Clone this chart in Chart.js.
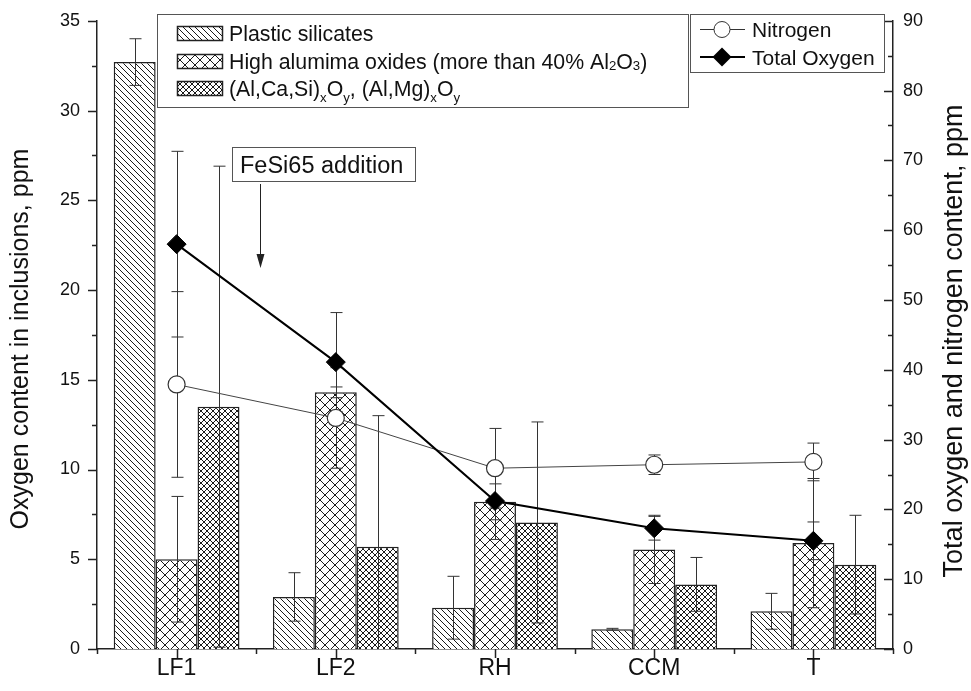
<!DOCTYPE html>
<html>
<head>
<meta charset="utf-8">
<script src="https://cdn.jsdelivr.net/npm/chart.js@4.4.1/dist/chart.umd.min.js"></script>
<style>
  html, body { margin: 0; padding: 0; background: #fff; }
  canvas { display: block; }
</style>
</head>
<body>
<canvas id="inclusionsChart" width="971" height="691"></canvas>
<script>
// categories (treatment stages)
const stages = ['LF1', 'LF2', 'RH', 'CCM', 'T'];

// oxygen content in inclusions, ppm (left axis) and their errors
const plasticSilicates    = [32.7, 2.9, 2.3, 1.1, 2.1];
const plasticSilicatesErr = [1.3, 1.35, 1.75, 0.05, 1.0];
const highAlumina         = [5.0, 14.3, 8.2, 5.55, 5.9];
const highAluminaErr      = [3.5, 0.3, 1.0, 1.9, 3.6];
const alCaSiOxides        = [13.5, 5.7, 7.05, 3.6, 4.7];
const alCaSiOxidesErr     = [13.4, 7.3, 5.6, 1.5, 2.75];

// total oxygen and nitrogen, ppm (right axis)
const nitrogen       = [37.9, 33.1, 25.9, 26.4, 26.8];
const nitrogenErr    = [13.3, 7.2, 5.7, 1.4, 2.7];
const totalOxygen    = [58.0, 41.1, 21.2, 17.3, 15.5];
const totalOxygenErr = [13.3, 7.1, 5.5, 1.7, 2.7];

// axis tick values
const leftTicks = { min: 0, max: 35, major: 5, minor: 2.5 };
const rightTicks = { min: 0, max: 90, major: 10, minor: 5 };

const FONT = '"Liberation Sans", Arial, sans-serif';
const INK = '#222';

const canvas = document.getElementById('inclusionsChart');
const ctx = canvas.getContext('2d');

// hatch patterns
function hatch(size, dirs) {
    const c = document.createElement('canvas');
    c.width = size; c.height = size;
    const g = c.getContext('2d');
    g.fillStyle = '#fff';
    g.fillRect(0, 0, size, size);
    g.strokeStyle = '#1a1a1a';
    g.lineWidth = 1;
    g.beginPath();
    if (dirs.includes('\\')) {
        g.moveTo(-1, -1); g.lineTo(size + 1, size + 1);
        g.moveTo(-size - 1, -1); g.lineTo(1, size + 1);
        g.moveTo(size - 1, -1); g.lineTo(2 * size + 1, size + 1);
    }
    if (dirs.includes('/')) {
        g.moveTo(-1, size + 1); g.lineTo(size + 1, -1);
        g.moveTo(-size - 1, size + 1); g.lineTo(1, -1);
        g.moveTo(size - 1, size + 1); g.lineTo(2 * size + 1, -1);
    }
    g.stroke();
    return ctx.createPattern(c, 'repeat');
}
const plasticFill = hatch(6, '\\');
const aluminaFill = hatch(10, '\\/');
const alCaSiFill = hatch(6, '\\/');

// error bars: bars after their dataset, lines before any line is drawn
let lineErrorsDone = false;
function drawErrors(chart, index) {
    const ds = chart.data.datasets[index];
    if (!ds.errors) return;
    const meta = chart.getDatasetMeta(index);
    const scale = chart.scales[meta.yAxisID];
    const c = chart.ctx;
    c.save();
    c.strokeStyle = '#333';
    c.lineWidth = 1;
    meta.data.forEach((el, i) => {
        const v = ds.data[i], e = ds.errors[i];
        const x = Math.round(el.x) + 0.5;
        const top = scale.getPixelForValue(v + e);
        const lowVal = v - e;
        const bot = scale.getPixelForValue(Math.max(0, lowVal));
        c.beginPath();
        c.moveTo(x, top); c.lineTo(x, bot);
        c.moveTo(x - 6, top); c.lineTo(x + 6, top);
        if (lowVal > 0) { c.moveTo(x - 6, bot); c.lineTo(x + 6, bot); }
        c.stroke();
    });
    c.restore();
}
const errorBarPlugin = {
    id: 'errorBars',
    beforeDraw() { lineErrorsDone = false; },
    beforeDatasetDraw(chart, args) {
        const ds = chart.data.datasets[args.index];
        if (ds.type === 'line' && !lineErrorsDone) {
            chart.data.datasets.forEach((d, i) => { if (d.type === 'line') drawErrors(chart, i); });
            lineErrorsDone = true;
        }
    },
    afterDatasetDraw(chart, args) {
        const ds = chart.data.datasets[args.index];
        if (ds.type !== 'line') drawErrors(chart, args.index);
    }
};

// axis tick marks: left outward, right inward, x outward with minor marks between stages
const tickMarksPlugin = {
    id: 'tickMarks',
    afterDraw(chart) {
        const c = chart.ctx;
        const { x, y, y1 } = chart.scales;
        c.save();
        c.strokeStyle = INK;
        c.lineWidth = 1.5;
        c.beginPath();
        for (let v = leftTicks.min; v <= leftTicks.max + 1e-9; v += leftTicks.minor) {
            const p = Math.round(y.getPixelForValue(v)) + 0.5;
            const len = (v % leftTicks.major === 0) ? 9 : 5;
            c.moveTo(y.right, p); c.lineTo(y.right - len, p);
        }
        for (let v = rightTicks.min; v <= rightTicks.max + 1e-9; v += rightTicks.minor) {
            const p = Math.round(y1.getPixelForValue(v)) + 0.5;
            const len = (v % rightTicks.major === 0) ? 9 : 5;
            c.moveTo(y1.left, p); c.lineTo(y1.left - len, p);
        }
        const step = (x.right - x.left) / stages.length;
        stages.forEach((s, i) => {
            const p = Math.round(x.getPixelForValue(i)) + 0.5;
            c.moveTo(p, x.top); c.lineTo(p, x.top + 9);
        });
        for (let i = 0; i <= stages.length; i++) {
            const p = Math.round(x.left + i * step) + 0.5;
            c.moveTo(p, x.top); c.lineTo(p, x.top + 5);
        }
        c.stroke();
        c.restore();
    }
};

function drawRich(c, x, y, parts, size) {
    parts.forEach(p => {
        const s = p.sub ? size * 0.62 : size;
        c.font = s + 'px ' + FONT;
        const dy = p.sub === 'low' ? size * 0.3 : (p.sub ? size * 0.05 : 0);
        c.fillText(p.t, x, y + dy);
        x += c.measureText(p.t).width;
    });
}

// legends, axis titles and the FeSi65 annotation
const decorPlugin = {
    id: 'decor',
    afterDraw(chart) {
        const c = chart.ctx;
        c.save();
        c.fillStyle = '#111';
        c.strokeStyle = '#555';
        c.lineWidth = 1;
        c.textBaseline = 'alphabetic';
        c.textAlign = 'left';

        // bar legend
        c.fillStyle = '#fff';
        c.fillRect(157, 14, 531, 94);
        c.strokeRect(157.5, 14.5, 531, 93);
        const barRows = [
            { fill: plasticFill, y: 33, parts: [{ t: 'Plastic silicates' }] },
            { fill: aluminaFill, y: 61, parts: [{ t: 'High alumima oxides (more than 40% Al' }, { t: '2', sub: true }, { t: 'O' }, { t: '3', sub: true }, { t: ')' }] },
            { fill: alCaSiFill, y: 88, parts: [{ t: '(Al,Ca,Si)' }, { t: 'x', sub: 'low' }, { t: 'O' }, { t: 'y', sub: 'low' }, { t: ', (Al,Mg)' }, { t: 'x', sub: 'low' }, { t: 'O' }, { t: 'y', sub: 'low' }] }
        ];
        barRows.forEach(r => {
            c.fillStyle = r.fill;
            c.fillRect(177, r.y - 7, 46, 15);
            c.strokeStyle = INK;
            c.lineWidth = 1.5;
            c.strokeRect(177.5, r.y - 6.5, 45, 14);
            c.fillStyle = '#111';
            drawRich(c, 229, r.y + 7.5, r.parts, 21.3);
        });

        // line legend
        c.fillStyle = '#fff';
        c.fillRect(690, 14, 194, 58);
        c.strokeStyle = '#555';
        c.lineWidth = 1;
        c.strokeRect(690.5, 14.5, 194, 58);
        c.strokeStyle = '#333';
        c.beginPath(); c.moveTo(700, 29.5); c.lineTo(745, 29.5); c.stroke();
        c.fillStyle = '#fff';
        c.beginPath(); c.arc(722, 29.5, 8, 0, Math.PI * 2); c.fill(); c.stroke();
        c.strokeStyle = '#000';
        c.lineWidth = 2;
        c.beginPath(); c.moveTo(700, 57); c.lineTo(745, 57); c.stroke();
        c.fillStyle = '#000';
        c.beginPath(); c.moveTo(722, 47.5); c.lineTo(731.5, 57); c.lineTo(722, 66.5); c.lineTo(712.5, 57); c.closePath(); c.fill();
        c.fillStyle = '#111';
        c.font = '21px ' + FONT;
        c.fillText('Nitrogen', 752, 37);
        c.fillText('Total Oxygen', 752, 64.5);

        // annotation
        c.fillStyle = '#fff';
        c.fillRect(232, 147, 183, 34);
        c.strokeStyle = '#555';
        c.lineWidth = 1;
        c.strokeRect(232.5, 147.5, 183, 34);
        c.fillStyle = '#111';
        c.font = '23.5px ' + FONT;
        c.fillText('FeSi65 addition', 240, 172.5);
        c.strokeStyle = INK;
        c.beginPath(); c.moveTo(260.5, 184); c.lineTo(260.5, 258); c.stroke();
        c.beginPath(); c.moveTo(256.5, 254); c.lineTo(264.5, 254); c.lineTo(260.5, 268); c.closePath(); c.fillStyle = INK; c.fill();

        // axis titles
        c.fillStyle = '#111';
        c.font = '25px ' + FONT;
        c.textAlign = 'center';
        c.textBaseline = 'middle';
        c.translate(21, 339);
        c.rotate(-Math.PI / 2);
        c.fillText('Oxygen content in inclusions, ppm', 0, 0);
        c.setTransform(1, 0, 0, 1, 0, 0);
        c.font = '27px ' + FONT;
        c.translate(955, 341);
        c.rotate(-Math.PI / 2);
        c.fillText('Total oxygen and nitrogen content, ppm', 0, 0);
        c.restore();
    }
};

const tickFont = { family: FONT, size: 18 };

new Chart(ctx, {
    type: 'bar',
    data: {
        labels: stages,
        datasets: [
            {
                type: 'line',
                label: 'Total Oxygen',
                data: totalOxygen,
                errors: totalOxygenErr,
                yAxisID: 'y1',
                order: 0,
                borderColor: '#000',
                borderWidth: 2,
                pointStyle: 'rectRot',
                pointRadius: 9.5,
                pointBackgroundColor: '#000',
                pointBorderColor: '#000',
                pointBorderWidth: 1
            },
            {
                type: 'line',
                label: 'Nitrogen',
                data: nitrogen,
                errors: nitrogenErr,
                yAxisID: 'y1',
                order: 1,
                borderColor: '#444',
                borderWidth: 1,
                pointStyle: 'circle',
                pointRadius: 8.5,
                pointBackgroundColor: '#fff',
                pointBorderColor: '#333',
                pointBorderWidth: 1.2
            },
            {
                label: 'Plastic silicates',
                data: plasticSilicates,
                errors: plasticSilicatesErr,
                yAxisID: 'y',
                order: 2,
                backgroundColor: plasticFill,
                borderColor: INK,
                borderWidth: 1.5
            },
            {
                label: 'High alumima oxides',
                data: highAlumina,
                errors: highAluminaErr,
                yAxisID: 'y',
                order: 2,
                backgroundColor: aluminaFill,
                borderColor: INK,
                borderWidth: 1.5
            },
            {
                label: '(Al,Ca,Si)xOy, (Al,Mg)xOy',
                data: alCaSiOxides,
                errors: alCaSiOxidesErr,
                yAxisID: 'y',
                order: 2,
                backgroundColor: alCaSiFill,
                borderColor: INK,
                borderWidth: 1.5
            }
        ]
    },
    options: {
        responsive: false,
        animation: false,
        devicePixelRatio: 1,
        datasets: {
            bar: { categoryPercentage: 0.79, barPercentage: 1 }
        },
        layout: { padding: { top: 14, left: 0, right: 0, bottom: 0 } },
        plugins: {
            legend: { display: false },
            tooltip: { enabled: false }
        },
        scales: {
            x: {
                offset: true,
                grid: { display: false, drawTicks: true, tickLength: 6 },
                border: { display: true, color: INK, width: 1.5 },
                ticks: { font: { family: FONT, size: 23 }, color: '#111', padding: 0, maxRotation: 0 },
                afterFit: s => { s.height = 42; }
            },
            y: {
                position: 'left',
                min: leftTicks.min,
                max: leftTicks.max,
                grid: { display: false, drawTicks: true, tickLength: 8 },
                border: { display: true, color: INK, width: 1.5 },
                ticks: { stepSize: leftTicks.major, font: tickFont, color: '#111', padding: 9 },
                afterFit: s => { s.width = 97; }
            },
            y1: {
                position: 'right',
                min: rightTicks.min,
                max: rightTicks.max,
                grid: { display: false, drawTicks: false },
                border: { display: true, color: INK, width: 1.5 },
                ticks: { stepSize: rightTicks.major, font: tickFont, color: '#111', padding: 10 },
                afterFit: s => { s.width = 78; }
            }
        }
    },
    plugins: [errorBarPlugin, tickMarksPlugin, decorPlugin]
});
</script>
</body>
</html>
